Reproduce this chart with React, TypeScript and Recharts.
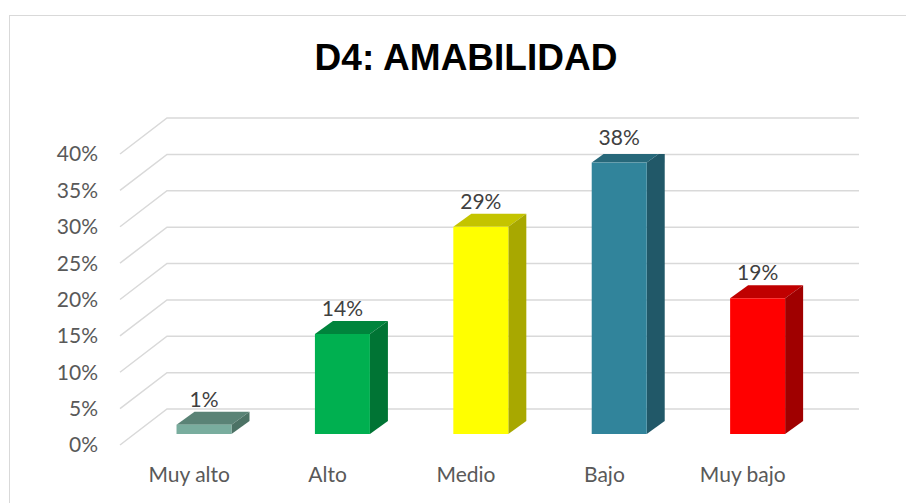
import { ComposedChart, Bar, Line, XAxis, YAxis, CartesianGrid, LabelList } from 'recharts'

const categories = ['Muy alto', 'Alto', 'Medio', 'Bajo', 'Muy bajo']
const percentages = [1.3, 14, 29, 38, 19]
const yTicks = [0, 5, 10, 15, 20, 25, 30, 35, 40]

const frontColors = ['#79ad9e', '#00b050', '#ffff00', '#31849b', '#ff0000']
const topColors = ['#5a8376', '#00843c', '#c4c400', '#27687a', '#c00000']
const sideColors = ['#4c7265', '#007434', '#a8a800', '#215868', '#a00000']

const data = categories.map((name, i) => ({ name, value: percentages[i] }))

const FONT = "Lato, 'Open Sans', sans-serif"
const DX = 18
const DY = 13

function Bar3D(props: any) {
  const { x, y, width, height, index } = props
  if (width == null || height == null) return null
  const right = x + width
  const bottom = y + height
  return (
    <g>
      <path d={`M${x},${y} l${DX},${-DY} H${right + DX} L${right},${y} Z`} fill={topColors[index]} />
      <path d={`M${right},${y} l${DX},${-DY} V${bottom - DY} L${right},${bottom} Z`} fill={sideColors[index]} />
      <rect x={x} y={y} width={width} height={height} fill={frontColors[index]} />
    </g>
  )
}

function gridLine(p: any) {
  const { x1, y1, x2 } = p
  return (
    <path
      key={p.key ?? `grid-${y1}`}
      d={`M${x1},${y1} l47,-36 H${x2 + 32}`}
      stroke="#d9d9d9"
      strokeWidth={1.5}
      fill="none"
    />
  )
}

function valueLabel(p: any) {
  const { x, y, width, value } = p
  return (
    <text x={x + width / 2} y={y - 18} textAnchor="middle" fontFamily={FONT} fontSize={21} fill="#404040">
      {`${Math.round(value)}%`}
    </text>
  )
}

export default function App() {
  return (
    <div style={{ position: 'absolute', left: 0, top: 0, width: 906, height: 503, background: '#fff', overflow: 'hidden' }}>
      <div style={{ position: 'absolute', left: 9, top: 15, width: 920, height: 520, border: '1.5px solid #d9d9d9', boxSizing: 'border-box' }} />
      <div
        style={{
          position: 'absolute',
          left: 26,
          top: 39,
          width: 880,
          textAlign: 'center',
          fontFamily: "'Liberation Sans', Arial, sans-serif",
          fontWeight: 'bold',
          fontSize: 37,
          lineHeight: '37px',
          color: '#000',
        }}
      >
        D4: AMABILIDAD
      </div>
      <ComposedChart
        width={906}
        height={503}
        data={data}
        margin={{ top: 154, right: 79, bottom: 18, left: 20 }}
        barCategoryGap="30%"
        style={{ position: 'absolute', left: 0, top: 0 }}
      >
        <CartesianGrid vertical={false} horizontal={gridLine} />
        <XAxis
          dataKey="name"
          padding={{ left: 0, right: 15 }}
          axisLine={false}
          tickLine={false}
          tickSize={0}
          tickMargin={22}
          height={40}
          tick={{ fontFamily: FONT, fontSize: 21, fill: '#595959' }}
        />
        <XAxis xAxisId="bars" dataKey="name" hide padding={{ left: 15, right: 0 }} />
        <YAxis
          type="number"
          domain={[0, 40]}
          ticks={yTicks}
          interval={0}
          tickFormatter={(v) => `${v}%`}
          axisLine={false}
          tickLine={false}
          tickSize={0}
          tickMargin={22}
          width={100}
          allowDataOverflow
          tick={{ fontFamily: FONT, fontSize: 21, fill: '#595959' }}
        />
        <YAxis yAxisId="bars" hide type="number" domain={[-1.54, 39.2]} allowDataOverflow />
        <Line dataKey="value" stroke="none" dot={false} activeDot={false} legendType="none" isAnimationActive={false} />
        <Bar dataKey="value" xAxisId="bars" yAxisId="bars" shape={<Bar3D />} isAnimationActive={false}>
          <LabelList dataKey="value" content={valueLabel} />
        </Bar>
      </ComposedChart>
    </div>
  )
}
